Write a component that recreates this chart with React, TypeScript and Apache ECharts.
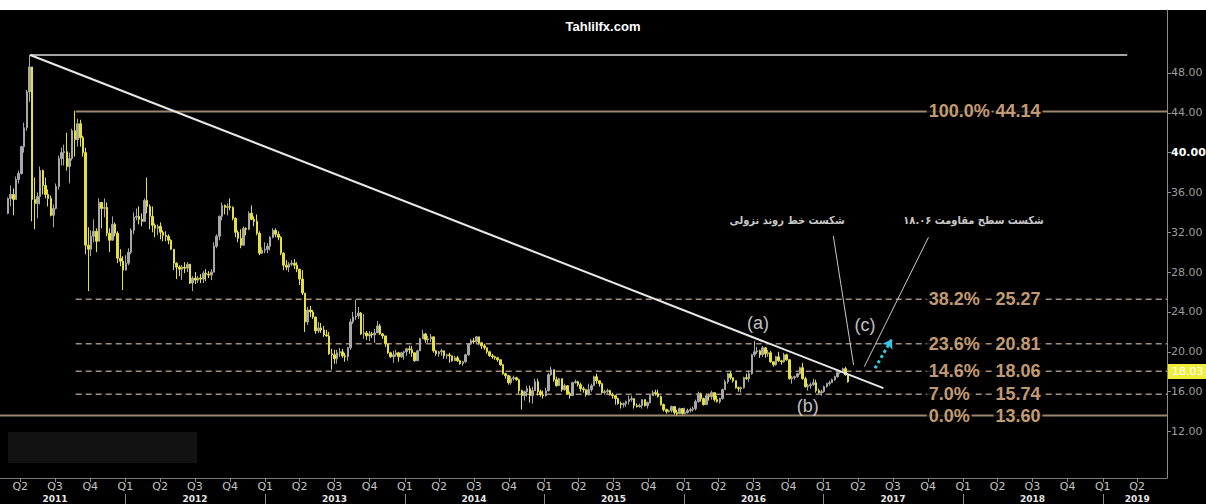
import React, { useEffect, useRef } from 'react';
import * as echarts from 'echarts';

// ---------- data ----------
const firstWeek = '2011-02-28';
const firstOpen = 33.9;
// weekly candles: [close, low, high]; open = previous close
const w2011 = [
  [35.4, 33.8, 35.5], [35.8, 34.6, 36.7], [35.3, 33.7, 36.4], [37.3, 35.6, 37.6], [37.9, 36.9, 38.2],
  [40.6, 37.8, 40.7], [42.5, 40.0, 43.0], [46.1, 42.2, 46.3], [48.6, 45.1, 49.8], [35.3, 33.1, 48.6],
  [34.9, 32.3, 37.5], [35.6, 33.4, 36.0], [38.2, 34.8, 38.6], [36.7, 35.8, 38.3], [35.8, 35.4, 37.5],
  [35.4, 34.6, 36.3], [33.7, 33.6, 35.7], [34.4, 32.5, 34.8], [36.6, 34.3, 36.9], [39.4, 36.3, 39.7],
  [40.0, 38.7, 40.5], [40.1, 38.7, 40.8], [38.6, 38.2, 42.0], [39.4, 36.9, 40.0], [42.2, 39.2, 42.4],
  [41.3, 39.6, 44.2], [42.9, 40.6, 43.4], [41.5, 40.6, 43.3], [40.0, 39.6, 41.7], [30.7, 29.8, 40.5],
  [30.3, 26.1, 32.5], [31.6, 29.6, 32.2], [32.1, 31.0, 33.3], [31.1, 30.0, 32.4], [35.0, 31.3, 35.4],
  [34.4, 32.4, 35.0], [34.5, 33.5, 35.4], [31.9, 31.6, 35.0], [31.2, 30.0, 32.4], [32.8, 31.7, 33.6],
  [31.9, 31.6, 33.0], [29.4, 28.9, 32.1], [29.1, 28.6, 30.3], [28.2, 26.2, 29.6],
];
const w2012 = [
  [28.9, 28.3, 29.7], [30.0, 28.7, 30.4], [32.2, 29.8, 32.4], [33.5, 31.8, 34.0], [33.6, 33.2, 34.4],
  [33.3, 32.8, 34.6], [33.1, 32.6, 33.9], [35.2, 33.4, 35.4], [34.6, 33.9, 37.5], [33.6, 32.3, 34.8],
  [32.7, 32.0, 34.6], [32.4, 31.5, 32.9], [32.6, 31.7, 32.8], [32.0, 31.3, 33.0], [31.7, 31.1, 32.2],
  [31.6, 31.1, 32.1], [31.2, 30.8, 31.8], [30.3, 30.2, 31.3], [28.9, 28.2, 30.3], [28.5, 27.3, 29.0],
  [28.3, 27.6, 28.7], [28.5, 27.2, 28.7], [28.4, 27.9, 29.0], [28.8, 28.0, 29.0], [26.9, 26.8, 28.8],
  [27.4, 26.1, 27.6], [27.2, 26.8, 28.0], [27.4, 26.9, 27.6], [27.3, 26.9, 27.8], [27.9, 26.9, 28.1],
  [27.8, 27.1, 28.3], [27.7, 27.4, 28.1], [28.0, 27.2, 28.3], [30.6, 28.0, 31.0], [31.6, 30.4, 31.8],
  [33.6, 31.2, 33.7], [34.7, 33.2, 35.0], [34.5, 33.8, 34.8], [34.6, 33.7, 34.9], [34.5, 34.2, 35.4],
  [33.4, 33.2, 34.6], [32.0, 31.5, 33.5], [31.4, 31.0, 32.2], [30.7, 30.4, 32.3], [32.4, 30.8, 32.6],
  [32.3, 31.7, 32.5], [33.9, 32.2, 34.1], [33.3, 33.2, 34.7], [33.1, 32.6, 33.6], [31.9, 31.7, 33.8],
  [29.9, 29.7, 32.1], [30.2, 29.8, 30.5], [30.3, 29.9, 31.0],
];
const w2013 = [
  [30.6, 29.9, 30.9], [31.5, 30.2, 31.6], [32.2, 31.4, 32.4], [31.8, 31.5, 32.4], [31.5, 31.2, 32.1],
  [29.9, 29.7, 31.6], [28.7, 28.2, 30.0], [28.5, 28.2, 29.2], [28.8, 28.0, 29.0], [28.9, 28.6, 29.2],
  [28.7, 28.3, 29.3], [28.3, 28.0, 29.0], [27.3, 26.7, 28.0], [25.9, 25.7, 28.2], [23.0, 22.0, 25.9],
  [24.2, 22.7, 24.5], [24.0, 23.5, 24.6], [23.5, 23.3, 24.2], [22.1, 21.8, 23.4], [22.4, 21.9, 23.0],
  [22.2, 21.9, 22.9], [21.7, 21.5, 22.6], [21.6, 21.5, 22.2], [19.8, 19.7, 22.0], [19.7, 18.2, 20.3],
  [19.3, 18.8, 20.2], [19.9, 18.8, 20.2], [20.0, 19.5, 20.4], [19.6, 19.4, 20.3], [19.5, 19.0, 19.9],
  [20.4, 19.1, 20.5], [23.0, 20.2, 23.3], [23.5, 22.8, 24.0], [23.6, 23.2, 25.2], [23.9, 23.3, 24.5],
  [21.8, 21.7, 24.0], [21.9, 21.3, 23.8], [21.6, 21.2, 22.1], [21.8, 21.1, 22.1], [21.7, 21.4, 22.0],
  [21.9, 20.9, 22.3], [22.6, 21.9, 23.1], [21.8, 21.7, 22.8], [21.6, 21.3, 21.9], [20.8, 20.5, 21.6],
  [19.9, 19.8, 20.8], [19.5, 19.4, 20.0], [19.7, 18.9, 20.1], [19.9, 19.5, 20.2], [19.5, 19.0, 20.0],
  [19.9, 19.4, 20.0], [20.0, 19.2, 20.1],
];
const w2014 = [
  [20.3, 19.6, 20.4], [20.2, 19.8, 20.6], [19.9, 19.5, 20.6], [19.1, 19.0, 19.9], [20.1, 19.3, 20.2],
  [21.3, 20.1, 21.4], [21.8, 21.3, 22.2], [21.2, 20.9, 21.9], [21.3, 20.9, 21.6], [21.5, 21.0, 21.8],
  [20.1, 19.9, 21.4], [19.8, 19.6, 20.2], [20.0, 19.5, 20.1], [20.1, 19.6, 20.3], [19.6, 19.3, 20.1],
  [19.7, 19.3, 19.8], [19.6, 18.9, 19.9], [19.1, 19.0, 19.6], [19.4, 19.1, 19.6], [19.1, 19.0, 19.6],
  [18.8, 18.7, 19.2], [19.0, 18.6, 19.1], [19.7, 18.9, 19.8], [20.8, 19.6, 20.9], [21.1, 20.7, 21.3],
  [21.0, 20.8, 21.4], [21.5, 20.9, 21.6], [20.9, 20.7, 21.5], [20.6, 20.3, 21.0], [20.4, 20.2, 20.8],
  [20.0, 19.8, 20.3], [19.6, 19.5, 20.1], [19.5, 19.3, 19.8], [19.4, 19.2, 19.6], [19.2, 19.0, 19.5],
  [18.7, 18.6, 19.2], [17.8, 17.7, 18.8], [17.6, 17.3, 17.9], [16.9, 16.7, 17.7], [17.3, 16.7, 17.6],
  [17.4, 17.1, 17.6], [17.2, 17.1, 17.5], [16.1, 15.8, 17.3], [15.6, 14.2, 16.2], [16.0, 15.1, 16.1],
  [16.3, 15.5, 16.6], [15.6, 14.9, 16.6], [16.1, 14.8, 16.5], [17.0, 16.1, 17.3], [16.0, 15.6, 17.3],
  [15.7, 15.5, 16.2], [15.6, 15.3, 16.1],
];
const w2015 = [
  [16.1, 15.5, 16.4], [17.7, 16.0, 17.9], [18.2, 17.6, 18.5], [17.2, 17.0, 18.1], [16.6, 16.5, 17.5],
  [17.3, 16.6, 17.4], [16.2, 16.0, 17.3], [16.6, 16.1, 16.8], [15.8, 15.7, 16.6], [15.6, 15.3, 16.0],
  [16.9, 15.6, 17.0], [17.0, 16.8, 17.2], [16.7, 16.5, 17.1], [16.3, 16.0, 16.9], [16.2, 15.9, 16.5],
  [15.7, 15.5, 16.0], [16.2, 15.6, 16.8], [16.6, 16.0, 16.8], [17.5, 16.6, 17.6], [17.1, 16.8, 17.8],
  [16.8, 16.5, 17.0], [15.9, 15.8, 16.9], [16.0, 15.7, 16.2], [16.1, 15.8, 16.3], [15.7, 15.6, 16.2],
  [15.6, 15.3, 15.9], [15.3, 14.7, 15.6], [14.8, 14.7, 15.4], [14.7, 14.3, 15.0], [14.8, 14.4, 14.9],
  [15.0, 14.5, 15.1], [15.2, 14.7, 15.6], [15.3, 15.0, 15.6], [14.6, 14.3, 15.3], [14.5, 14.4, 14.8],
  [14.6, 14.4, 14.8], [15.2, 14.3, 15.2], [14.6, 14.5, 15.2], [14.9, 14.3, 15.0], [15.6, 14.8, 15.7],
  [15.9, 15.6, 16.1], [15.8, 15.6, 16.2], [15.5, 15.4, 16.2], [14.7, 14.6, 15.6], [14.2, 14.0, 14.8],
  [14.0, 13.8, 14.3], [14.1, 13.9, 14.2], [14.5, 13.9, 14.6], [13.9, 13.7, 14.4], [13.8, 13.6, 14.2],
  [14.3, 13.9, 14.4], [13.8, 13.7, 14.3],
];
const w2016 = [
  [13.9, 13.7, 14.4], [14.1, 13.8, 14.3], [14.2, 13.9, 14.4], [14.3, 14.0, 14.5], [15.0, 14.1, 15.2],
  [15.8, 14.9, 16.0], [15.3, 15.0, 15.9], [14.7, 14.6, 15.4], [15.6, 14.7, 15.8], [15.5, 15.1, 15.8],
  [15.9, 15.2, 16.1], [15.2, 15.0, 15.9], [15.0, 14.9, 15.6], [15.3, 14.8, 15.4], [16.2, 15.2, 16.3],
  [17.0, 16.2, 17.2], [17.8, 16.8, 17.9], [17.4, 17.2, 18.0], [17.1, 16.9, 17.4], [16.4, 16.3, 17.1],
  [16.3, 16.0, 16.5], [16.4, 15.9, 16.5], [17.4, 16.3, 17.5], [17.3, 17.2, 17.8], [17.8, 17.0, 18.1],
  [19.7, 17.7, 19.8], [20.0, 19.5, 21.1], [20.1, 19.8, 20.5], [19.7, 19.4, 20.2], [20.4, 19.5, 20.6],
  [19.8, 19.4, 20.5], [19.9, 19.5, 20.2], [19.0, 18.9, 20.1], [18.7, 18.5, 19.0], [19.5, 18.6, 19.6],
  [19.1, 19.0, 20.0], [19.0, 18.7, 19.2], [19.7, 18.9, 19.9], [19.2, 19.1, 19.8], [17.3, 17.2, 19.2],
  [17.4, 16.8, 17.6], [17.5, 17.2, 17.6], [17.8, 17.4, 17.9], [18.4, 17.7, 18.5], [17.3, 17.2, 18.9],
  [16.5, 16.4, 17.5], [16.6, 16.1, 16.8], [16.7, 16.3, 16.9], [16.9, 16.6, 17.3], [16.1, 15.9, 17.2],
  [15.9, 15.8, 16.3], [16.0, 15.6, 16.2],
];
const w2017 = [
  [16.5, 15.9, 16.6], [16.8, 16.4, 16.9], [16.9, 16.6, 17.1], [17.2, 16.9, 17.3], [17.5, 17.1, 17.6],
  [17.9, 17.4, 18.0], [18.0, 17.8, 18.1], [18.3, 17.9, 18.4], [17.7, 17.6, 18.5], [17.0, 16.9, 17.7],
];

// Fibonacci levels
const fibPct = ['100.0%', '38.2%', '23.6%', '14.6%', '7.0%', '0.0%'];
const fibVal = [44.14, 25.27, 20.81, 18.06, 15.74, 13.6];

// drawn lines: [date, value] endpoints
const trendLine = [['2011-04-27', 49.8], ['2017-06-06', 16.35]];
const topLine = [['2011-04-27', 49.8], ['2019-03-06', 49.8]];
const calloutTrend = [['2017-01-26', 31.63], ['2017-03-20', 18.68]];
const calloutLevel = [['2017-10-02', 31.5], ['2017-04-17', 18.5]];
const arrowLine = [['2017-05-15', 18.35], ['2017-06-28', 21.26]];

// wave labels
const waveNames = ['(a)', '(b)', '(c)'];
const waveDates = ['2016-07-13', '2016-11-20', '2017-04-19'];
const waveVals = [22.94, 14.51, 22.74];

// notes
const noteTexts = ['شکست خط روند نزولی', 'شکست سطح مقاومت ۱۸.۰۶'];
const noteDates = ['2016-09-27', '2018-01-28'];
const noteVals = [33.2, 33.2];

const lastPrice = '18.03';
const yTicks = [12, 16, 20, 24, 28, 32, 36, 40, 44, 48];
const yearLabels = ['2011', '2012', '2013', '2014', '2015', '2016', '2017', '2018', '2019'];

// ---------- layout constants ----------
const X_MIN = '2011-02-07';
const X_MAX = '2019-06-18';
const FIB_START = '2011-08-24';
const PCT_LABEL_AT = '2017-09-26';
const VAL_LABEL_AT = '2018-03-20';

const ts = (s: string) => Date.parse(s + 'T00:00:00Z');
const DAY = 86400000;
const CLEAR = 'rgba(0,0,0,0)';

function buildOption() {
  const weekly = [...w2011, ...w2012, ...w2013, ...w2014, ...w2015, ...w2016, ...w2017];
  const t0 = ts(firstWeek);
  let prev = firstOpen;
  const candles = weekly.map(([c, l, h], i) => {
    const o = prev;
    prev = c;
    return [t0 + i * 7 * DAY, o, c, Math.min(l, o, c), Math.max(h, o, c)];
  });

  const xMin = ts(X_MIN);
  const xMax = ts(X_MAX);

  const quarterTicks: number[] = [];
  for (let y = 2011; y <= 2019; y++) {
    for (let q = 0; q < 4; q++) {
      const t = Date.UTC(y, q * 3, 1);
      if (t >= Date.UTC(2011, 3, 1) && t <= Date.UTC(2019, 3, 1)) quarterTicks.push(t);
    }
  }
  const yearSeparators = yearLabels.slice(1).map((y) => Date.UTC(+y, 0, 1));
  const yearLabelPos = yearLabels.map((y) =>
    y === '2019' ? Date.UTC(2019, 3, 1) : Date.UTC(+y, 6, 1)
  );

  const pts = (arr: any[]) => arr.map(([d, v]) => [ts(d), v]);

  const fibSeries = fibVal.map((v, i) => {
    const solid = fibPct[i] === '100.0%' || fibPct[i] === '0.0%';
    return {
      type: 'line',
      silent: true,
      symbol: 'none',
      z: 1,
      data: [[fibPct[i] === '0.0%' ? xMin : ts(FIB_START), v], [xMax, v]],
      lineStyle: solid
        ? { color: '#9c8672', width: 2, type: 'solid' }
        : { color: '#a38e7c', width: 1.5, type: [6, 4] },
    };
  });

  const labelBase = {
    show: true,
    position: 'right',
    distance: 0,
    color: '#f6c594',
    fontSize: 18,
    fontWeight: 'bold',
    fontFamily: 'Liberation Sans, Arial, sans-serif',
    backgroundColor: '#000',
    padding: [1, 2],
    formatter: '{b}',
  };

  const xBase = {
    type: 'value',
    min: xMin,
    max: xMax,
    position: 'bottom',
    splitLine: { show: false },
    scale: true,
  };

  const textScatter = (data: any[], label: any) => ({
    type: 'scatter',
    silent: true,
    z: 8,
    symbolSize: 1,
    itemStyle: { color: CLEAR },
    data,
    label,
  });

  return {
    animation: false,
    backgroundColor: '#000',
    title: {
      text: 'Tahlilfx.com',
      left: 'center',
      top: 15,
      textStyle: { color: '#ffffff', fontSize: 13, fontWeight: 'bold', fontFamily: 'Liberation Sans, Arial, sans-serif' },
    },
    graphic: [
      { type: 'rect', left: 0, top: 0, shape: { width: 1206, height: 10 }, style: { fill: '#ffffff' }, silent: true },
      { type: 'rect', left: 8, top: 432, shape: { width: 189, height: 31 }, style: { fill: '#121212' }, silent: true, z: -1 },
    ],
    grid: { left: 0, right: 39, top: 10, bottom: 26, outerBoundsMode: 'none', containLabel: false },
    xAxis: [
      {
        ...xBase,
        axisLine: { show: true, onZero: false, lineStyle: { color: '#7a7a7a', width: 1 } },
        axisTick: { show: true, customValues: quarterTicks, length: 4, lineStyle: { color: '#8a8a8a' } },
        axisLabel: {
          customValues: quarterTicks,
          formatter: (v: number) => 'Q' + (Math.floor(new Date(v).getUTCMonth() / 3) + 1),
          color: '#c4c4c4',
          fontSize: 11,
          fontFamily: 'DejaVu Sans, sans-serif',
          margin: 3,
        },
      },
      {
        ...xBase,
        offset: 16,
        axisLine: { show: false, onZero: false },
        axisTick: { show: true, customValues: yearSeparators, length: 10, lineStyle: { color: '#8a8a8a' } },
        axisLabel: {
          customValues: yearLabelPos,
          formatter: (v: number) => String(new Date(v).getUTCFullYear()),
          color: '#e6e6e6',
          fontSize: 9,
          fontWeight: 'bold',
          fontFamily: 'DejaVu Sans, sans-serif',
          lineHeight: 9,
          margin: 0,
        },
      },
    ],
    yAxis: {
      type: 'value',
      position: 'right',
      min: 7.33,
      max: 54.32,
      axisLine: { show: true, lineStyle: { color: '#8c8c8c' } },
      axisTick: { show: true, customValues: yTicks, length: 4, lineStyle: { color: '#8c8c8c' } },
      axisLabel: {
        customValues: yTicks,
        formatter: (v: number) => (v === 40 ? '{b|40.00}' : v.toFixed(2)),
        rich: { b: { color: '#ffffff', fontWeight: 'bold', fontSize: 11, fontFamily: 'DejaVu Sans, sans-serif' } },
        color: '#9e9e9e',
        fontSize: 11,
        fontFamily: 'DejaVu Sans, sans-serif',
        margin: 4,
      },
      splitLine: { show: false },
    },
    series: [
      ...fibSeries,
      {
        type: 'candlestick',
        z: 2,
        barWidth: 2,
        data: candles,
        itemStyle: {
          color: '#a8a8a8',
          color0: '#e6e03a',
          borderColor: '#a8a8a8',
          borderColor0: '#e6e03a',
          borderWidth: 1,
        },
        markLine: {
          silent: true,
          symbol: 'none',
          lineStyle: { color: CLEAR, width: 1 },
          data: [{ yAxis: +lastPrice }],
          label: {
            show: true,
            position: 'end',
            distance: 1,
            formatter: lastPrice,
            backgroundColor: '#eeee3a',
            color: '#ffffff',
            fontSize: 11,
            fontFamily: 'DejaVu Sans, sans-serif',
            padding: [2, 4],
          },
        },
      },
      {
        type: 'line',
        silent: true,
        symbol: 'none',
        z: 3,
        data: pts(topLine),
        lineStyle: { color: '#dcdcdc', width: 1.5 },
      },
      {
        type: 'line',
        silent: true,
        symbol: 'none',
        z: 4,
        data: pts(trendLine),
        lineStyle: { color: '#e8e8e8', width: 2 },
      },
      {
        type: 'line',
        silent: true,
        symbol: 'none',
        z: 4,
        data: pts(calloutTrend),
        lineStyle: { color: '#c8c8c8', width: 1 },
      },
      {
        type: 'line',
        silent: true,
        symbol: 'none',
        z: 4,
        data: pts(calloutLevel),
        lineStyle: { color: '#c8c8c8', width: 1 },
      },
      {
        type: 'lines',
        coordinateSystem: 'cartesian2d',
        silent: true,
        z: 6,
        symbol: ['none', 'arrow'],
        symbolSize: 9,
        data: [{ coords: pts(arrowLine) }],
        lineStyle: { color: '#36c8e2', width: 3, type: 'dotted', opacity: 1 },
      },
      textScatter(
        fibPct.map((p, i) => ({ name: p, value: [ts(PCT_LABEL_AT), fibVal[i]] })),
        labelBase
      ),
      textScatter(
        fibVal.map((v) => ({ name: v.toFixed(2), value: [ts(VAL_LABEL_AT), v] })),
        labelBase
      ),
      textScatter(
        waveNames.map((n, i) => ({ name: n, value: [ts(waveDates[i]), waveVals[i]] })),
        {
          show: true,
          position: 'inside',
          formatter: '{b}',
          color: '#f4f4f4',
          fontSize: 18,
          fontFamily: 'Liberation Sans, Arial, sans-serif',
        }
      ),
      textScatter(
        noteTexts.map((n, i) => ({ name: n, value: [ts(noteDates[i]), noteVals[i]] })),
        {
          show: true,
          position: 'inside',
          formatter: '{b}',
          color: '#ffffff',
          fontSize: 11,
          fontWeight: 'bold',
          fontFamily: 'DejaVu Sans Condensed, DejaVu Sans, sans-serif',
        }
      ),
    ],
  };
}

export default function App() {
  const ref = useRef<HTMLDivElement>(null);
  useEffect(() => {
    const chart = echarts.init(ref.current as HTMLDivElement, null, { renderer: 'svg' });
    chart.setOption(buildOption() as any);
    return () => chart.dispose();
  }, []);
  return (
    <div
      ref={ref}
      style={{ position: 'fixed', left: 0, top: 0, width: 1206, height: 504 }}
    />
  );
}
